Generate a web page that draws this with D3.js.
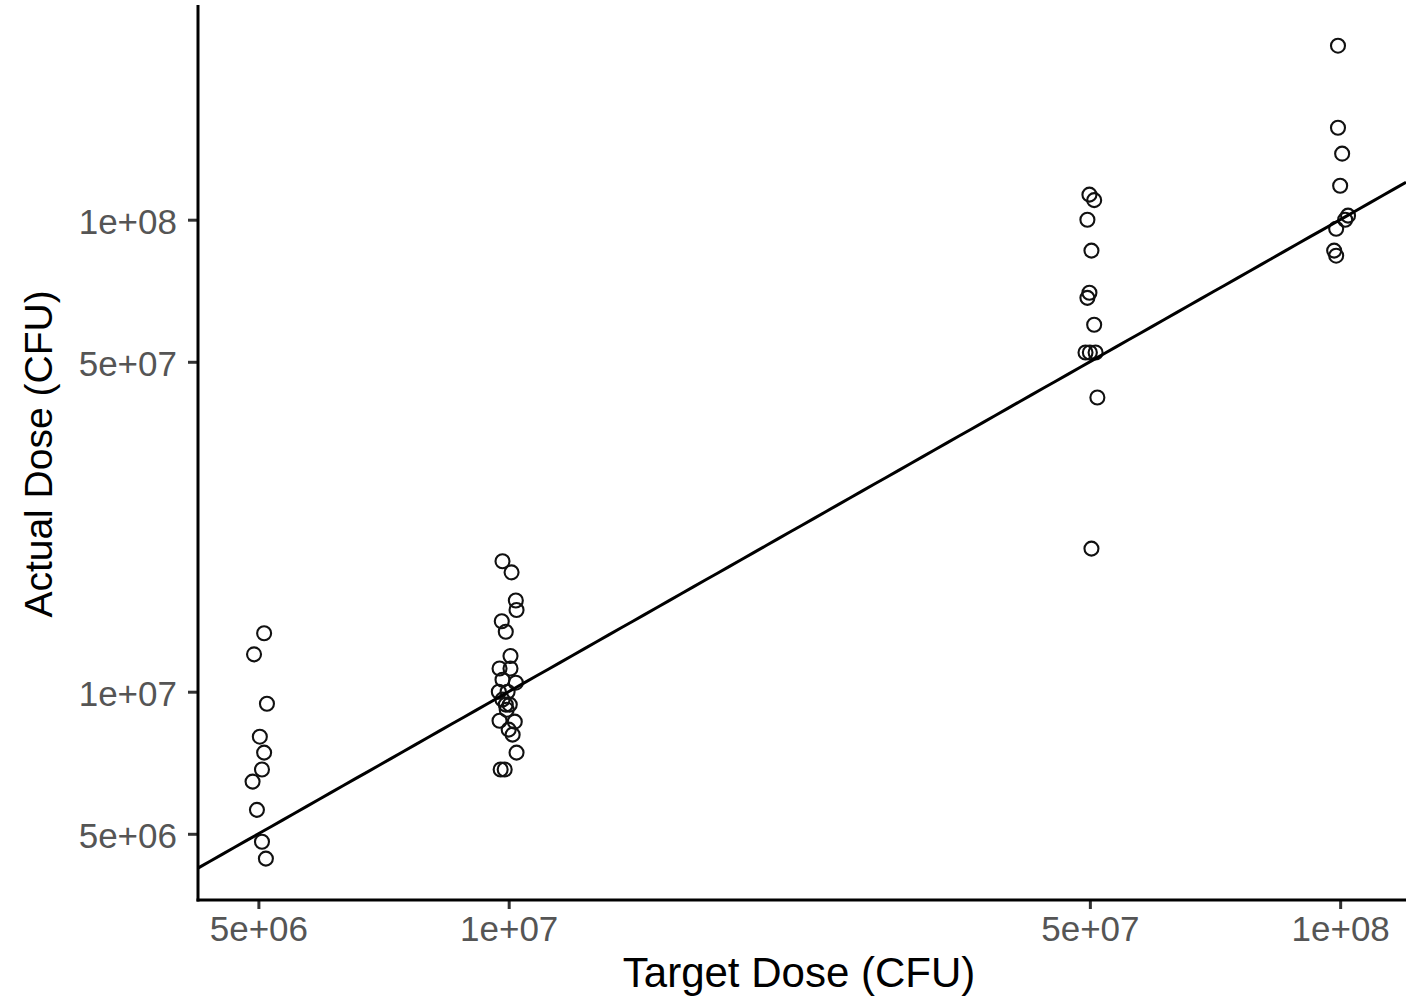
<!DOCTYPE html>
<html>
<head>
<meta charset="utf-8">
<script src="https://cdn.jsdelivr.net/npm/d3@7"></script>
<style>
html,body{margin:0;padding:0;background:#fff;}
svg{display:block;}
</style>
</head>
<body>
<svg id="chart" width="1406" height="997"></svg>
<script>
// ---- data (x values include the plot's horizontal jitter) ----
const targetDoses = [5e6, 1e7, 5e7, 1e8];

const group5e6X = [5.08e6, 4.94e6, 5.12e6, 5.02e6, 5.08e6, 5.05e6, 4.92e6, 4.98e6, 5.05e6, 5.105e6];
const group5e6Y = [1.33e7, 1.20e7, 9.43e6, 8.03e6, 7.43e6, 6.84e6, 6.45e6, 5.62e6, 4.81e6, 4.43e6];

const group1e7X = [9.83e6, 1.008e7, 1.02e7, 1.022e7, 9.81e6, 9.92e6, 1.005e7, 9.75e6, 1.005e7, 9.83e6,
                   1.02e7, 9.73e6, 9.97e6, 9.83e6, 1.003e7, 9.945e6, 9.75e6, 1.017e7, 1.0e7, 1.011e7,
                   1.022e7, 9.78e6, 9.89e6, 9.92e6];
const group1e7Y = [1.89e7, 1.79e7, 1.56e7, 1.49e7, 1.41e7, 1.34e7, 1.19e7, 1.12e7, 1.12e7, 1.06e7,
                   1.045e7, 1.0e7, 1.0e7, 9.62e6, 9.39e6, 9.16e6, 8.68e6, 8.64e6, 8.31e6, 8.11e6,
                   7.43e6, 6.84e6, 6.84e6, 9.39e6];

const group5e7X = [4.994e7, 5.06e7, 4.966e7, 5.022e7, 4.994e7, 4.966e7, 5.06e7, 4.94e7, 5.0e7, 5.08e7, 5.105e7, 5.022e7];
const group5e7Y = [1.13e8, 1.10e8, 1.0e8, 8.60e7, 7.00e7, 6.83e7, 5.99e7, 5.23e7, 5.23e7, 5.23e7, 4.20e7, 2.01e7];

const group1e8X = [9.94e7, 9.94e7, 1.0055e8, 1.0e8, 1.022e8, 1.014e8, 9.89e7, 9.835e7, 9.89e7];
const group1e8Y = [2.337e8, 1.566e8, 1.38e8, 1.18e8, 1.02e8, 1.0e8, 9.57e7, 8.60e7, 8.39e7];

const xTickValues = [5e6, 1e7, 5e7, 1e8];
const xTickLabels = ["5e+06", "1e+07", "5e+07", "1e+08"];
const yTickValues = [5e6, 1e7, 5e7, 1e8];
const yTickLabels = ["5e+06", "1e+07", "5e+07", "1e+08"];

const xDomain = [4.23e6, 1.2e8];
const yDomain = [3.62e6, 2.85e8];

const xTitle = "Target Dose (CFU)";
const yTitle = "Actual Dose (CFU)";

// ---- layout ----
const svg = d3.select("#chart");
const mLeft = 198, mRight = 1406, mTop = 5, mBottom = 900;

const x = d3.scaleLog().domain(xDomain).range([mLeft, mRight]);
const y = d3.scaleLog().domain(yDomain).range([mBottom, mTop]);

const points = [];
[[group5e6X, group5e6Y], [group1e7X, group1e7Y], [group5e7X, group5e7Y], [group1e8X, group1e8Y]]
  .forEach(([xs, ys]) => xs.forEach((v, i) => points.push({x: v, y: ys[i]})));

svg.append("defs").append("clipPath").attr("id", "plotclip")
  .append("rect").attr("x", mLeft).attr("y", mTop).attr("width", mRight - mLeft).attr("height", mBottom - mTop);

// points
svg.append("g")
  .selectAll("circle")
  .data(points)
  .join("circle")
  .attr("cx", d => x(d.x))
  .attr("cy", d => y(d.y))
  .attr("r", 7)
  .attr("fill", "none")
  .attr("stroke", "#111")
  .attr("stroke-width", 2.1);

// identity / fit line
const lineData = d3.range(0, 101).map(i => {
  const lx = Math.log10(xDomain[0]) + i / 100 * (Math.log10(xDomain[1]) - Math.log10(xDomain[0]));
  const v = Math.pow(10, lx);
  return {x: v, y: v};
});
svg.append("path")
  .datum(lineData)
  .attr("clip-path", "url(#plotclip)")
  .attr("fill", "none")
  .attr("stroke", "#000")
  .attr("stroke-width", 3)
  .attr("d", d3.line().x(d => x(d.x)).y(d => y(d.y)));

// axes
const fontFam = "'Liberation Sans', Arial, Helvetica, sans-serif";

const xAxis = d3.axisBottom(x).tickValues(xTickValues)
  .tickFormat((d, i) => xTickLabels[i]).tickSize(9).tickPadding(7);
const gx = svg.append("g").attr("transform", `translate(0,${mBottom})`).call(xAxis);
gx.select(".domain").remove();
gx.selectAll(".tick line").attr("stroke", "#333").attr("stroke-width", 3);
gx.selectAll(".tick text").attr("fill", "#555").attr("font-size", 35).attr("font-family", fontFam)
  .attr("dy", "0.71em");

const yAxis = d3.axisLeft(y).tickValues(yTickValues)
  .tickFormat((d, i) => yTickLabels[i]).tickSize(10).tickPadding(11);
const gy = svg.append("g").attr("transform", `translate(${mLeft},0)`).call(yAxis);
gy.select(".domain").remove();
gy.selectAll(".tick line").attr("stroke", "#333").attr("stroke-width", 3);
gy.selectAll(".tick text").attr("fill", "#555").attr("font-size", 35).attr("font-family", fontFam)
  .attr("dy", "0.38em");

// axis lines
svg.append("line").attr("x1", mLeft).attr("x2", mLeft).attr("y1", mTop).attr("y2", mBottom + 1.5)
  .attr("stroke", "#000").attr("stroke-width", 3);
svg.append("line").attr("x1", mLeft - 1.5).attr("x2", mRight).attr("y1", mBottom).attr("y2", mBottom)
  .attr("stroke", "#000").attr("stroke-width", 3);

// titles
svg.append("text")
  .attr("x", 799).attr("y", 987)
  .attr("text-anchor", "middle")
  .attr("font-family", fontFam).attr("font-size", 42).attr("fill", "#000")
  .text(xTitle);

svg.append("text")
  .attr("transform", "translate(52,454) rotate(-90)")
  .attr("text-anchor", "middle")
  .attr("font-family", fontFam).attr("font-size", 39).attr("fill", "#000")
  .text(yTitle);
</script>
</body>
</html>
